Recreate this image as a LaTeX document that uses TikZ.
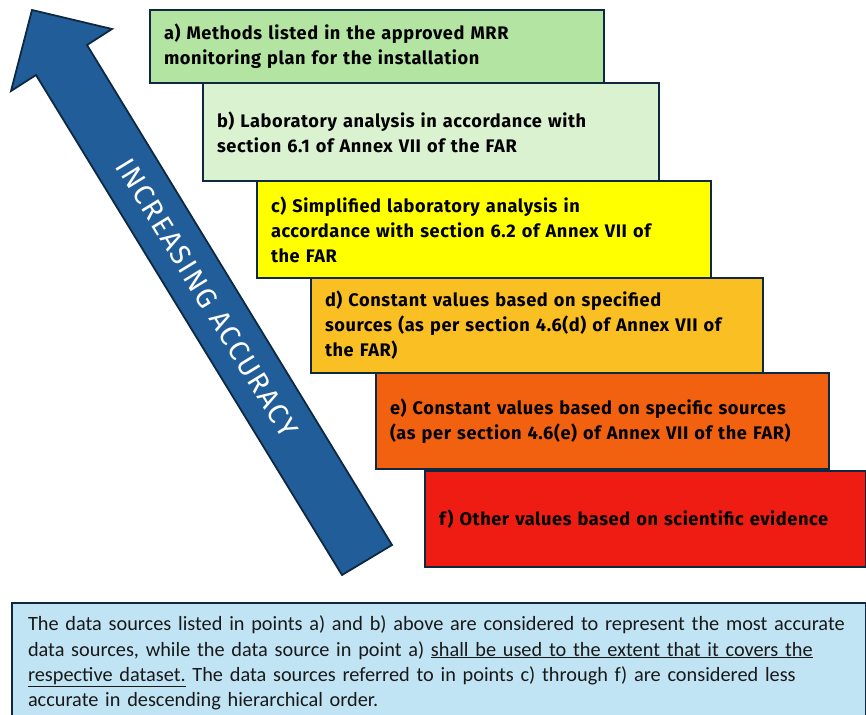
\documentclass[tikz,border=0pt]{standalone}
\usepackage{fontspec}
\setmainfont{Fira Sans}
\newfontfamily\notefont{Carlito}
\newfontfamily\stepfont[LetterSpace=3.2]{Fira Sans}
\newfontfamily\arrowfont[LetterSpace=6]{Fira Sans}
\definecolor{edge}{HTML}{0E2841}
\definecolor{arrowblue}{HTML}{215E99}
\definecolor{stepA}{HTML}{B4E4A2}
\definecolor{stepB}{HTML}{DAF2D0}
\definecolor{stepC}{HTML}{FFFF00}
\definecolor{stepD}{HTML}{FABF22}
\definecolor{stepE}{HTML}{F26110}
\definecolor{stepF}{HTML}{EE1C12}
\definecolor{notefill}{HTML}{C1E4F5}
\begin{document}
\begin{tikzpicture}[x=1pt,y=-1pt,
  stepbox/.style={draw=edge, line width=2pt, anchor=north west, align=left,
    inner xsep=14pt, inner ysep=0pt,
    font=\stepfont\fontsize{18.2}{25}\selectfont\bfseries, text=black},
  notebox/.style={draw=edge, line width=2pt, fill=notefill, anchor=north west,
    align=left, inner xsep=16pt, inner ysep=0pt,
    font=\notefont\fontsize{20.3}{25.3}\selectfont, text=black!90}]
\useasboundingbox (0,0) rectangle (866,714);

% accuracy arrow
\draw[edge, line width=1.8pt, fill=arrowblue, line join=miter]
  (32,10) -- (112,29) -- (87,45) -- (392,545) -- (342,575) -- (36,75) -- (11,91) -- cycle;
\node[text=white, rotate=-58.5, font=\arrowfont\fontsize{28.5}{28.5}\selectfont] (acc) at (207,298) {INCREASING ACCURACY};

% hierarchy of data sources
\node[stepbox, fill=stepA, text width=426pt, minimum height=73pt] (a) at (149,9)
  {a) Methods listed in the approved MRR\\monitoring plan for the installation};
\node[stepbox, fill=stepB, text width=428pt, minimum height=98pt] (b) at (202,82)
  {b) Laboratory analysis in accordance with\\section 6.1 of Annex VII of the FAR};
\node[stepbox, fill=stepC, text width=426pt, minimum height=97pt] (c) at (256,180)
  {c) Simplified laboratory analysis in\\accordance with section 6.2 of Annex VII of\\the FAR};
\node[stepbox, fill=stepD, text width=424pt, minimum height=95pt] (d) at (310,277)
  {d) Constant values based on specified\\sources (as per section 4.6(d) of Annex VII of\\the FAR)};
\node[stepbox, fill=stepE, text width=425pt, minimum height=96pt] (e) at (375,372)
  {e) Constant values based on specific sources\\(as per section 4.6(e) of Annex VII of the FAR)};
\node[stepbox, fill=stepF, text width=413pt, minimum height=96pt] (f) at (424,470)
  {f) Other values based on scientific evidence};

% explanatory note
\node[notebox, text width=822pt, minimum height=120pt] (note) at (11,602)
  {\mbox{The data sources listed in points a) and b) above are considered to represent the most accurate}\\
   data sources, while the data source in point a) \underline{shall be used to the extent that it covers the}\\
   \underline{respective dataset.} The data sources referred to in points c) through f) are considered less\\
   accurate in descending hierarchical order.};
\end{tikzpicture}
\end{document}
